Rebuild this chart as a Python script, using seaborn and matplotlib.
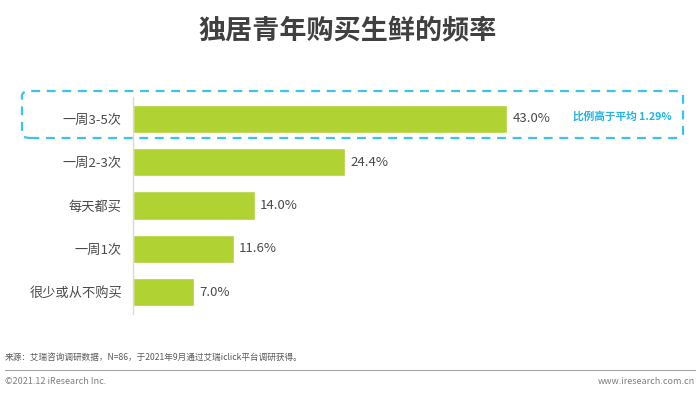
import seaborn as sns
import pandas as pd
import matplotlib.pyplot as plt
from matplotlib.patches import FancyBboxPatch

# 数据
categories = ['一周3-5次', '一周2-3次', '每天都买', '一周1次', '很少或从不购买']
values = [43.0, 24.4, 14.0, 11.6, 7.0]
value_labels = ['43.0%', '24.4%', '14.0%', '11.6%', '7.0%']
note = '比例高于平均 1.29%'

df = pd.DataFrame({'cat': categories, 'val': values})

sns.set_theme(style='white')
plt.rcParams['font.family'] = ['Noto Sans CJK SC', 'DejaVu Sans']
plt.rcParams['axes.unicode_minus'] = False

fig = plt.figure(figsize=(7, 3.93), dpi=100)
ax = fig.add_axes([133 / 700, 1 - 314 / 393, 505 / 700, 217 / 393])

sns.barplot(data=df, x='val', y='cat', orient='h', color='#b0d232',
            width=0.65, saturation=1, ax=ax)
ax.set_xlim(0, 58)
ax.set_ylim(4.5, -0.5)
ax.set_xlabel('')
ax.set_ylabel('')
ax.set_xticks([])
for s in ['top', 'right', 'bottom']:
    ax.spines[s].set_visible(False)
ax.spines['left'].set_color('#d9d9d9')
ax.spines['left'].set_linewidth(1)
ax.tick_params(axis='y', length=0, pad=8, labelsize=9.5, labelcolor='#4a4a4a')

for i, (v, lab) in enumerate(zip(values, value_labels)):
    ax.text(v + 0.6, i, lab, va='center', ha='left', fontsize=9.5, color='#4a4a4a')

# 虚线框
box = FancyBboxPatch((22 / 700, 1 - 138 / 393), 661 / 700, 47 / 393,
                     boxstyle='round,pad=0,rounding_size=0.012',
                     transform=fig.transFigure, fill=False,
                     edgecolor='#3cc4e6', linewidth=1.6, linestyle=(0, (4, 3)))
fig.add_artist(box)
fig.text(573 / 700, 1 - 116 / 393, note, ha='left', va='center',
         fontsize=7.7, fontweight='bold', color='#22b4e4')

# 标题
fig.text(0.497, 1 - 30 / 393, '独居青年购买生鲜的频率', ha='center', va='center',
         fontsize=19.5, fontweight='bold', color='#404040')

# 页脚
fig.text(5 / 700, 1 - 357 / 393, '来源：艾瑞咨询调研数据，N=86，于2021年9月通过艾瑞iclick平台调研获得。',
         ha='left', va='center', fontsize=6.2, color='#595959')
fig.add_artist(plt.Line2D([5 / 700, 695 / 700], [1 - 370 / 393, 1 - 370 / 393],
                          transform=fig.transFigure, color='#a6a6a6', linewidth=0.8))
fig.text(5 / 700, 1 - 381 / 393, '©2021.12 iResearch Inc.', ha='left', va='center',
         fontsize=6.5, color='#7f7f7f')
fig.text(695 / 700, 1 - 381 / 393, 'www.iresearch.com.cn', ha='right', va='center',
         fontsize=6.5, color='#7f7f7f')

fig.savefig('out.png', dpi=100)
